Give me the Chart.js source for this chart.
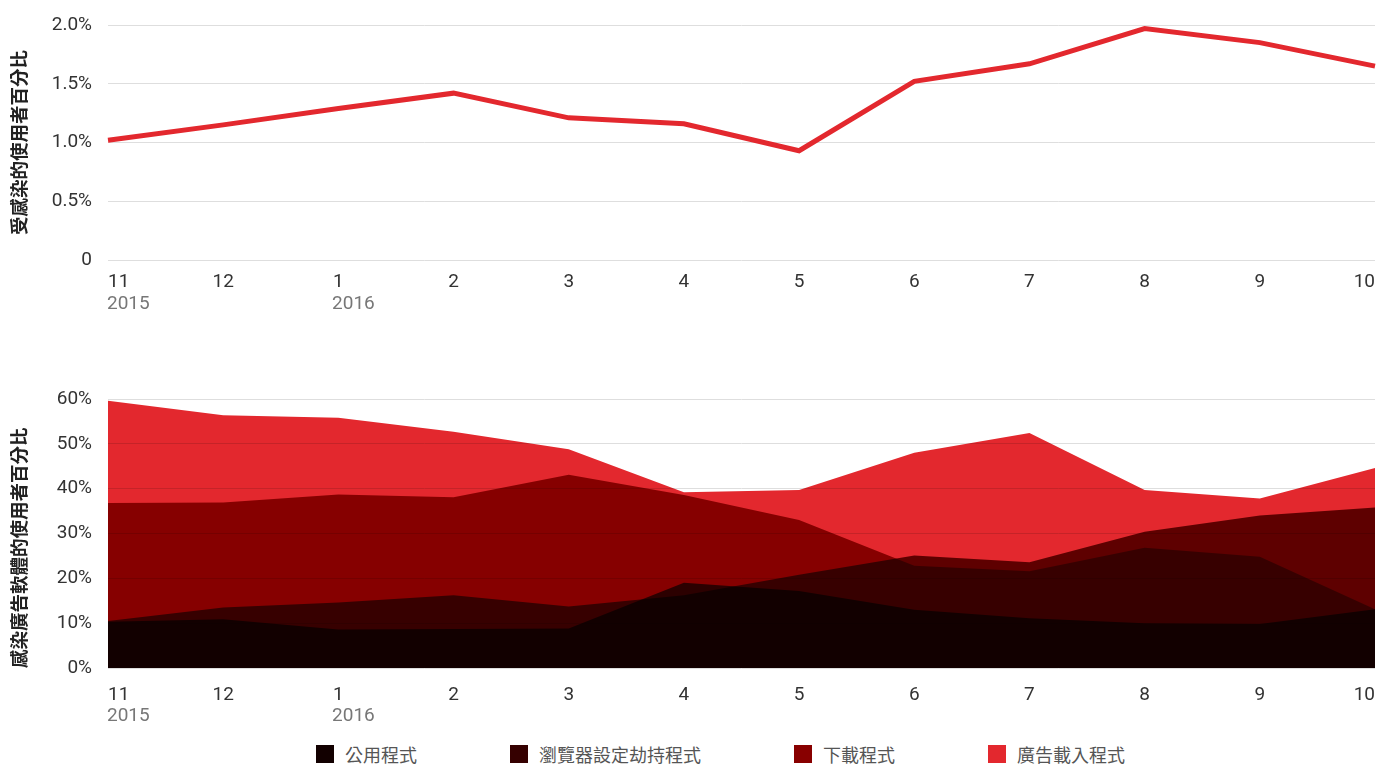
<!DOCTYPE html>
<html>
<head>
<meta charset="utf-8">
<title>受感染的使用者百分比</title>
<script src="https://cdn.jsdelivr.net/npm/chart.js@4.4.1/dist/chart.umd.min.js"></script>
<style>
    html, body { margin: 0; padding: 0; background: #fff; }
    body { width: 1383px; height: 766px; position: relative; overflow: hidden; font-family: Roboto, "Noto Sans CJK TC", sans-serif; }
    #topWrap { position: absolute; left: 0; top: 0; width: 1383px; height: 320px; }
    #bottomWrap { position: absolute; left: 0; top: 380px; width: 1383px; height: 350px; }
    #legend { position: absolute; left: 316px; top: 745px; height: 18px; display: flex; align-items: center; gap: 93px; }
    .legend-item { display: flex; align-items: center; }
    .legend-swatch { width: 18px; height: 18px; margin-right: 11px; }
    .legend-text { font-family: "Noto Sans CJK TC", sans-serif; font-size: 18px; line-height: 18px; color: #555; }
</style>
</head>
<body>
<div id="topWrap"><canvas id="infectedChart"></canvas></div>
<div id="bottomWrap"><canvas id="categoryChart"></canvas></div>
<div id="legend"></div>

<script>
// 資料
const months = ['11', '12', '1', '2', '3', '4', '5', '6', '7', '8', '9', '10'];
const years = ['2015', '', '2016', '', '', '', '', '', '', '', '', ''];

const infectedShare = [1.02, 1.15, 1.29, 1.42, 1.21, 1.16, 0.93, 1.52, 1.67, 1.97, 1.85, 1.65];
const topTickLabels = ['0', '0.5%', '1.0%', '1.5%', '2.0%'];

const seriesNames = ['公用程式', '瀏覽器設定劫持程式', '下載程式', '廣告載入程式'];
const utilities   = [10.3, 10.9, 8.6, 8.7, 8.8, 19.0, 17.2, 13.0, 11.1, 10.0, 9.8, 13.1];
const hijackers   = [10.5, 13.5, 14.6, 16.2, 13.7, 16.2, 20.8, 25.1, 23.6, 30.4, 34.0, 35.8];
const downloaders = [36.8, 36.9, 38.7, 38.1, 43.1, 38.6, 33.0, 22.8, 21.6, 26.8, 24.8, 13.1];
const adInjectors = [59.6, 56.4, 55.8, 52.7, 48.8, 39.2, 39.7, 48.0, 52.4, 39.7, 37.8, 44.6];
const bottomTickLabels = ['0%', '10%', '20%', '30%', '40%', '50%', '60%'];

// 顏色 (fills are multiplied onto each other, legend shows the full-overlap tone)
const fillColors = ['rgb(83,0,0)', 'rgb(105,0,0)', 'rgb(151,0,0)', '#e3282e'];
const legendColors = ['#120000', '#350000', '#880000', '#e3282e'];

Chart.defaults.font.family = 'Roboto, "Noto Sans CJK TC", sans-serif';
Chart.defaults.animation = false;

// month / year labels under the x axis
const monthLabels = {
    id: 'monthLabels',
    afterDraw(chart, args, opts) {
        const { ctx, scales: { x } } = chart;
        const base = chart.chartArea.bottom;
        ctx.save();
        ctx.font = '19px Roboto';
        ctx.textBaseline = 'middle';
        months.forEach((m, i) => {
            const px = x.getPixelForValue(i);
            const w = ctx.measureText(m).width;
            let left = px - w / 2;
            if (i === 0) left = px;
            if (i === months.length - 1) left = px - w;
            ctx.textAlign = 'left';
            ctx.fillStyle = '#333';
            ctx.fillText(m, left, base + opts.monthGap);
            if (years[i]) {
                ctx.fillStyle = '#777';
                ctx.fillText(years[i], left - 1, base + opts.yearGap);
            }
        });
        ctx.restore();
    }
};

const multiplyFills = {
    id: 'multiplyFills',
    beforeDatasetsDraw(chart) {
        chart.ctx.save();
        chart.ctx.globalCompositeOperation = 'multiply';
    },
    afterDatasetsDraw(chart) {
        chart.ctx.restore();
    }
};

function xAxis() {
    return {
        type: 'category',
        offset: false,
        grid: { display: false, drawTicks: false },
        border: { display: false },
        ticks: { display: false }
    };
}

function yAxis(max, step, labels, title, align) {
    return {
        min: 0,
        max: max,
        ticks: {
            stepSize: step,
            padding: 16,
            color: '#333',
            font: { size: 19 },
            callback: (v, i) => labels[i]
        },
        grid: { color: '#dedede', lineWidth: 1, drawTicks: false },
        border: { display: false },
        title: {
            display: true,
            text: title,
            align: align,
            color: '#222',
            font: { family: '"Noto Sans CJK TC", sans-serif', size: 18.5, weight: 'bold' },
            padding: { top: 8, bottom: 0 }
        },
        afterFit: (scale) => {
            scale.width = 108;
            scale.paddingTop = 0;
            scale.paddingBottom = 0;
        }
    };
}

new Chart(document.getElementById('infectedChart'), {
    type: 'line',
    data: {
        labels: months,
        datasets: [{
            label: '受感染的使用者百分比',
            data: infectedShare,
            borderColor: '#e3282e',
            borderWidth: 5,
            pointRadius: 0,
            tension: 0,
            fill: false
        }]
    },
    options: {
        responsive: true,
        maintainAspectRatio: false,
        layout: { padding: { top: 25, right: 8, bottom: 60, left: 0 } },
        plugins: {
            legend: { display: false },
            tooltip: { enabled: false },
            monthLabels: { monthGap: 22, yearGap: 44 }
        },
        scales: {
            x: xAxis(),
            y: yAxis(2, 0.5, topTickLabels, '受感染的使用者百分比', 'center')
        }
    },
    plugins: [monthLabels]
});

const seriesData = [utilities, hijackers, downloaders, adInjectors];

new Chart(document.getElementById('categoryChart'), {
    type: 'line',
    data: {
        labels: months,
        datasets: seriesNames.map((name, i) => ({
            label: name,
            data: seriesData[i],
            backgroundColor: fillColors[i],
            borderWidth: 0,
            pointRadius: 0,
            tension: 0,
            fill: 'origin'
        }))
    },
    options: {
        responsive: true,
        maintainAspectRatio: false,
        layout: { padding: { top: 19, right: 8, bottom: 62, left: 0 } },
        plugins: {
            legend: { display: false },
            tooltip: { enabled: false },
            monthLabels: { monthGap: 27, yearGap: 48 }
        },
        scales: {
            x: xAxis(),
            y: yAxis(60, 10, bottomTickLabels, '感染廣告軟體的使用者百分比', 'start')
        }
    },
    plugins: [multiplyFills, monthLabels]
});

// 圖例
const legend = document.getElementById('legend');
seriesNames.forEach((name, i) => {
    const item = document.createElement('div');
    item.className = 'legend-item';
    const sw = document.createElement('span');
    sw.className = 'legend-swatch';
    sw.style.backgroundColor = legendColors[i];
    const txt = document.createElement('span');
    txt.className = 'legend-text';
    txt.textContent = name;
    item.appendChild(sw);
    item.appendChild(txt);
    legend.appendChild(item);
});
</script>
</body>
</html>
